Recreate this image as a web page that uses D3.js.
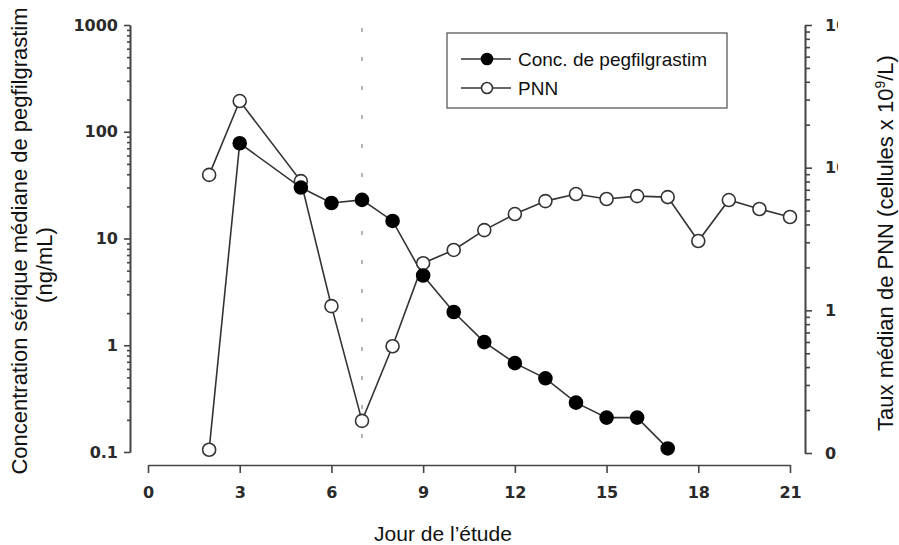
<!DOCTYPE html>
<html><head><meta charset="utf-8">
<script src="https://cdn.jsdelivr.net/npm/d3@7"></script>
<style>
html,body{margin:0;padding:0;background:#fff;}
svg{display:block;font-family:"Liberation Sans",Arial,sans-serif;}
</style></head>
<body><svg id="chart" width="899" height="545"></svg>
<script>
// ---- data ----
const xTicks = [0, 3, 6, 9, 12, 15, 18, 21];
const leftTicks = [0.1, 1, 10, 100, 1000];
const leftTickLabels = ["0.1", "1", "10", "100", "1000"];
const rightTicks = [0.1, 1, 10, 100];
const rightTickLabels = ["0.1", "1", "10", "100"];
const pegDays = [2, 3, 5, 6, 7, 8, 9, 10, 11, 12, 13, 14, 15, 16, 17];
const pegValues = [0.105, 78, 30, 21.5, 23, 14.6, 4.5, 2.05, 1.07, 0.68, 0.49, 0.29, 0.21, 0.21, 0.108];
const pegBelowLoqDays = [2];
const pnnDays = [2, 3, 5, 6, 7, 8, 9, 10, 11, 12, 13, 14, 15, 16, 17, 18, 19, 20, 21];
const pnnValues = [8.9, 29.3, 8.05, 1.07, 0.168, 0.56, 2.14, 2.65, 3.65, 4.73, 5.83, 6.53, 6.03, 6.32, 6.22, 3.06, 5.93, 5.13, 4.51];
const markerDay = 7;
const seriesNames = ["Conc. de pegfilgrastim", "PNN"];

// ---- layout ----
const svg = d3.select("#chart");
const x = d3.scaleLinear().domain([0, 21]).range([148, 790]);
const yL = d3.scaleLog().domain([0.1, 1000]).range([452, 25]);
const yR = d3.scaleLog().domain([0.1, 100]).range([453, 25]);
const axisColor = "#444";
const lineColor = "#333";
const tickFont = "DejaVu Sans, sans-serif";

function minorVals(scale) {
  const [a, b] = scale.domain();
  const out = [];
  for (let d = Math.round(Math.log10(a)); d < Math.round(Math.log10(b)); d++) {
    const base = Math.pow(10, d);
    for (let k = 2; k <= 9; k++) out.push(k * base);
  }
  return out;
}
function styleAxis(g) {
  g.selectAll("path.domain").attr("stroke", axisColor).attr("stroke-width", 1.6).attr("fill", "none");
  g.selectAll(".tick line").attr("stroke", axisColor).attr("stroke-width", 1.6);
  g.selectAll(".tick text").attr("font-size", 16).attr("font-weight", "bold")
    .attr("font-family", tickFont).attr("fill", "#2a2a2a");
}

// dotted day marker
svg.append("line")
  .attr("x1", x(markerDay)).attr("x2", x(markerDay))
  .attr("y1", 28).attr("y2", 452)
  .attr("stroke", "#b5b5b5").attr("stroke-width", 2)
  .attr("stroke-dasharray", "4,25");

// left axis
const gLminor = svg.append("g").attr("transform", "translate(130,0)")
  .call(d3.axisLeft(yL).tickValues(minorVals(yL)).tickSize(3).tickSizeOuter(0).tickFormat(() => ""));
styleAxis(gLminor);
const gL = svg.append("g").attr("transform", "translate(130,0)")
  .call(d3.axisLeft(yL).tickValues(leftTicks).tickSize(6).tickSizeOuter(0)
    .tickFormat((d, i) => leftTickLabels[i]));
styleAxis(gL);
gL.selectAll(".tick text").attr("x", -12);

// right axis (labels clipped by the image edge of the original)
const defs = svg.append("defs");
defs.append("clipPath").attr("id", "rclip")
  .append("rect").attr("x", -10).attr("y", 0).attr("width", 43).attr("height", 545);
const gRminor = svg.append("g").attr("transform", "translate(805,0)")
  .call(d3.axisRight(yR).tickValues(minorVals(yR)).tickSize(5).tickSizeOuter(0).tickFormat(() => ""));
styleAxis(gRminor);
const gR = svg.append("g").attr("transform", "translate(805,0)").attr("clip-path", "url(#rclip)")
  .call(d3.axisRight(yR).tickValues(rightTicks).tickSize(7).tickSizeOuter(0)
    .tickFormat((d, i) => rightTickLabels[i]));
styleAxis(gR);
gR.selectAll(".tick text").attr("x", 20);

// x axis
const gX = svg.append("g").attr("transform", "translate(0,465)")
  .call(d3.axisBottom(x).tickValues(xTicks).tickSize(8).tickSizeOuter(0));
styleAxis(gX);
gX.selectAll(".tick text").attr("y", 22);

// series
const peg = pegDays.map((d, i) => ({ d, v: pegValues[i], loq: pegBelowLoqDays.includes(d) }));
const pnn = pnnDays.map((d, i) => ({ d, v: pnnValues[i] }));

svg.append("path").datum(pnn)
  .attr("fill", "none").attr("stroke", lineColor).attr("stroke-width", 1.6)
  .attr("d", d3.line().x(p => x(p.d)).y(p => yR(p.v)));
svg.append("path").datum(peg)
  .attr("fill", "none").attr("stroke", lineColor).attr("stroke-width", 1.6)
  .attr("d", d3.line().x(p => x(p.d)).y(p => yL(p.v)));

svg.selectAll(".pnnPt").data(pnn).enter().append("circle")
  .attr("cx", p => x(p.d)).attr("cy", p => yR(p.v)).attr("r", 6.5)
  .attr("fill", "#fff").attr("stroke", lineColor).attr("stroke-width", 1.6);
svg.selectAll(".pegPt").data(peg).enter().append("circle")
  .attr("cx", p => x(p.d)).attr("cy", p => yL(p.v)).attr("r", 6.5)
  .attr("fill", p => p.loq ? "#fff" : "#000").attr("stroke", p => p.loq ? lineColor : "#000")
  .attr("stroke-width", 1.6);

// legend
const lg = svg.append("g");
lg.append("rect").attr("x", 447).attr("y", 33).attr("width", 280).attr("height", 75)
  .attr("fill", "#fff").attr("stroke", "#666").attr("stroke-width", 1.4);
seriesNames.forEach((name, i) => {
  const yy = 59 + i * 29;
  lg.append("line").attr("x1", 461).attr("x2", 511).attr("y1", yy).attr("y2", yy)
    .attr("stroke", lineColor).attr("stroke-width", 1.6);
  lg.append("circle").attr("cx", 487).attr("cy", yy).attr("r", 5.5)
    .attr("fill", i === 0 ? "#000" : "#fff").attr("stroke", i === 0 ? "#000" : lineColor).attr("stroke-width", 1.6);
  lg.append("text").attr("x", 518).attr("y", yy + 7).attr("font-size", 19).attr("fill", "#111").text(name);
});

// axis titles
svg.append("text").attr("x", 443).attr("y", 541).attr("text-anchor", "middle")
  .attr("font-size", 21).attr("fill", "#111").text("Jour de l’étude");
svg.append("text").attr("transform", "translate(27,241) rotate(-90)").attr("text-anchor", "middle")
  .attr("font-size", 22).attr("fill", "#111").text("Concentration sérique médiane de pegfilgrastim");
svg.append("text").attr("transform", "translate(52,265) rotate(-90)").attr("text-anchor", "middle")
  .attr("font-size", 22).attr("fill", "#111").text("(ng/mL)");
const rt = svg.append("text").attr("transform", "translate(893,243) rotate(-90)").attr("text-anchor", "middle")
  .attr("font-size", 22).attr("fill", "#111");
rt.append("tspan").text("Taux médian de PNN (cellules x 10");
rt.append("tspan").attr("font-size", 14).attr("dy", -8).text("9");
rt.append("tspan").attr("dy", 8).text("/L)");
</script></body></html>
